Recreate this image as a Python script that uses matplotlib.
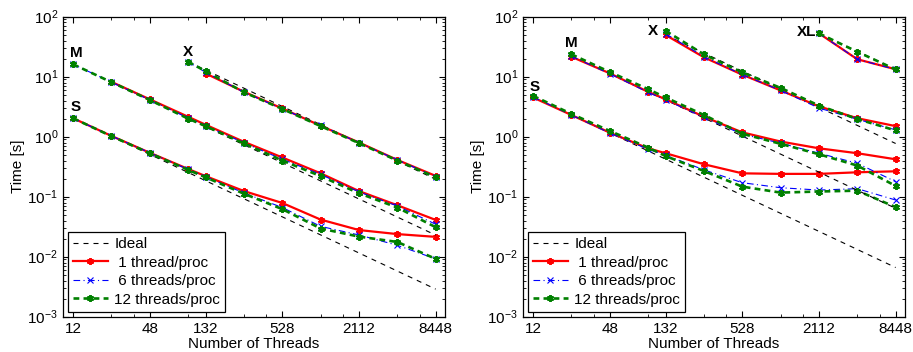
import numpy as np
import matplotlib
matplotlib.use("Agg")
import matplotlib.pyplot as plt
from matplotlib.ticker import FixedLocator, NullFormatter, LogLocator

plt.rcParams['font.family'] = ['Liberation Sans', 'DejaVu Sans']
plt.rcParams['mathtext.fontset'] = 'custom'
plt.rcParams['mathtext.rm'] = 'Liberation Sans'

# thread counts on the x axis
threads = [12, 24, 48, 96, 132, 264, 528, 1056, 2112, 4224, 8448]
xtick_major = [12, 48, 132, 528, 2112, 8448]
xtick_minor = [24, 36, 96, 264, 396, 1056, 1584, 4224, 6336]

# ---- left panel (runtimes in seconds) ----
left_S_x = threads
left_S_1 = [2.03, 1.03, 0.54, 0.29, 0.22, 0.124, 0.0785, 0.0415, 0.0278, 0.0238, 0.0214]
left_S_6 = [2.03, 1.03, 0.54, 0.285, 0.215, 0.115, 0.066, 0.032, 0.023, 0.0155, 0.0092]
left_S_12 = [2.03, 1.02, 0.53, 0.28, 0.21, 0.112, 0.062, 0.0295, 0.0216, 0.0176, 0.0092]
left_S_ideal = [2.03, 0.00288]

left_M_x = threads
left_M_1 = [None, 8.2, 4.2, 2.15, 1.58, 0.82, 0.45, 0.245, 0.124, 0.072, 0.041]
left_M_6 = [16.1, 8.1, 4.1, 2.05, 1.52, 0.79, 0.42, 0.235, 0.12, 0.07, 0.0347]
left_M_12 = [16.1, 8.1, 4.1, 2.0, 1.5, 0.77, 0.40, 0.22, 0.114, 0.066, 0.031]
left_M_ideal = [16.1, 0.0229]

left_X_x = [96, 132, 264, 528, 1056, 2112, 4224, 8448]
left_X_1 = [None, 11.3, 5.6, 2.95, 1.52, 0.80, 0.41, 0.222]
left_X_6 = [17.8, 11.8, 5.5, 2.9, 1.55, 0.79, 0.41, 0.215]
left_X_12 = [17.8, 12.3, 5.5, 2.9, 1.5, 0.78, 0.40, 0.21]
left_X_ideal = [17.8, 0.195]

# ---- right panel ----
right_S_x = threads
right_S_1 = [4.5, 2.3, 1.17, 0.64, 0.53, 0.347, 0.245, 0.24, 0.24, 0.255, 0.265]
right_S_6 = [4.6, 2.3, 1.15, 0.62, 0.49, 0.28, 0.171, 0.141, 0.129, 0.136, 0.088]
right_S_12 = [4.8, 2.4, 1.25, 0.66, 0.475, 0.268, 0.147, 0.117, 0.122, 0.126, 0.067]
right_S_ideal = [4.64, 0.0066]

right_M_x = threads[1:]
right_M_1 = [21.5, 11.4, 5.6, 4.2, 2.15, 1.18, 0.83, 0.64, 0.53, 0.42]
right_M_6 = [22.0, 11.2, 5.5, 4.1, 2.1, 1.1, 0.78, 0.53, 0.36, 0.178]
right_M_12 = [23.6, 12.0, 6.2, 4.5, 2.3, 1.12, 0.76, 0.51, 0.33, 0.151]
right_M_ideal = [22.5, 0.064]

right_X_x = [132, 264, 528, 1056, 2112, 4224, 8448]
right_X_1 = [49.5, 21.0, 10.8, 5.9, 3.2, 2.03, 1.5]
right_X_6 = [52.0, 21.5, 10.8, 5.9, 3.0, 1.95, 1.3]
right_X_12 = [58.0, 23.5, 11.8, 6.5, 3.3, 1.97, 1.27]
right_X_ideal = [49.5, 0.77]

right_XL_x = [2112, 4224, 8448]
right_XL_1 = [52.7, 19.5, 13.3]
right_XL_6 = [52.7, 19.5, 13.2]
right_XL_12 = [52.7, 26.0, 13.2]
right_XL_ideal = [52.7, 13.2]

# label name, x list, 1/6/12 series, ideal endpoints, label offset (points)
left_groups = [
    ("S", left_S_x, left_S_1, left_S_6, left_S_12, left_S_ideal, (1.8, 8)),
    ("M", left_M_x, left_M_1, left_M_6, left_M_12, left_M_ideal, (2, 8)),
    ("X", left_X_x, left_X_1, left_X_6, left_X_12, left_X_ideal, (0, 7)),
]
right_groups = [
    ("S", right_S_x, right_S_1, right_S_6, right_S_12, right_S_ideal, (1.5, 7)),
    ("M", right_M_x, right_M_1, right_M_6, right_M_12, right_M_ideal, (0, 9.5)),
    ("X", right_X_x, right_X_1, right_X_6, right_X_12, right_X_ideal, (-9, 2)),
    ("XL", right_XL_x, right_XL_1, right_XL_6, right_XL_12, right_XL_ideal, (-8.6, 1)),
]

asterisk = (6, 2, 0)


def pick(xs, ys):
    pts = [(x, y) for x, y in zip(xs, ys) if y is not None]
    return [p[0] for p in pts], [p[1] for p in pts]


def draw_panel(ax, groups):
    handles = None
    for name, xs, s1, s6, s12, ideal, off in groups:
        h0, = ax.plot([xs[0], xs[-1]], ideal, color='k', lw=0.8, dashes=(4.5, 4.5))
        x1, y1 = pick(xs, s1)
        h1, = ax.plot(x1, y1, color='red', lw=1.6, marker=asterisk, ms=5, mew=1.4)
        h6, = ax.plot(xs, s6, color='blue', lw=0.8, dashes=(6, 3, 1, 3),
                      marker='x', ms=4, mew=0.8)
        h12, = ax.plot(xs, s12, color='green', lw=1.9, dashes=(2.2, 1.6),
                       marker=asterisk, ms=5, mew=1.4)
        # series name sits next to the first point of the run
        ax.annotate(name, xy=(xs[0], s6[0]), xytext=off, textcoords='offset points',
                    ha='center', va='center', fontsize=11, fontweight='bold')
        handles = [h0, h1, h6, h12]

    ax.set_xscale('log')
    ax.set_yscale('log')
    ax.set_xlim(10, 10000)
    ax.set_ylim(1e-3, 1e2)
    ax.xaxis.set_major_locator(FixedLocator(xtick_major))
    ax.xaxis.set_minor_locator(FixedLocator(xtick_minor))
    ax.xaxis.set_minor_formatter(NullFormatter())
    ax.set_xticklabels([str(t) for t in xtick_major])
    ax.yaxis.set_major_locator(LogLocator(base=10, numticks=10))
    ax.yaxis.set_minor_locator(LogLocator(base=10, subs=np.arange(2, 10), numticks=20))
    ax.yaxis.set_minor_formatter(NullFormatter())
    ax.tick_params(which='both', direction='in', top=True, right=True, labelsize=11)
    ax.tick_params(which='major', length=4, width=0.8)
    ax.tick_params(which='minor', length=2.2, width=0.6)
    for sp in ax.spines.values():
        sp.set_linewidth(0.9)
    ax.set_xlabel("Number of Threads", fontsize=11, labelpad=1)
    ax.set_ylabel("Time [s]", fontsize=11, labelpad=2)

    leg = ax.legend(handles, ["Ideal", " 1 thread/proc", " 6 threads/proc", "12 threads/proc"],
                    loc='lower left', fontsize=11, frameon=True, fancybox=False,
                    edgecolor='black', framealpha=1, borderaxespad=0.3,
                    handlelength=2.3, handletextpad=0.4, labelspacing=0.3,
                    borderpad=0.35)
    leg.get_frame().set_linewidth(0.9)


fig = plt.figure(figsize=(9.13, 3.52), dpi=100)
ax1 = fig.add_axes([0.069, 0.1003, 0.4184, 0.8523])
ax2 = fig.add_axes([0.5728, 0.1003, 0.4184, 0.8523])
draw_panel(ax1, left_groups)
draw_panel(ax2, right_groups)

fig.savefig("out.png", dpi=100)
